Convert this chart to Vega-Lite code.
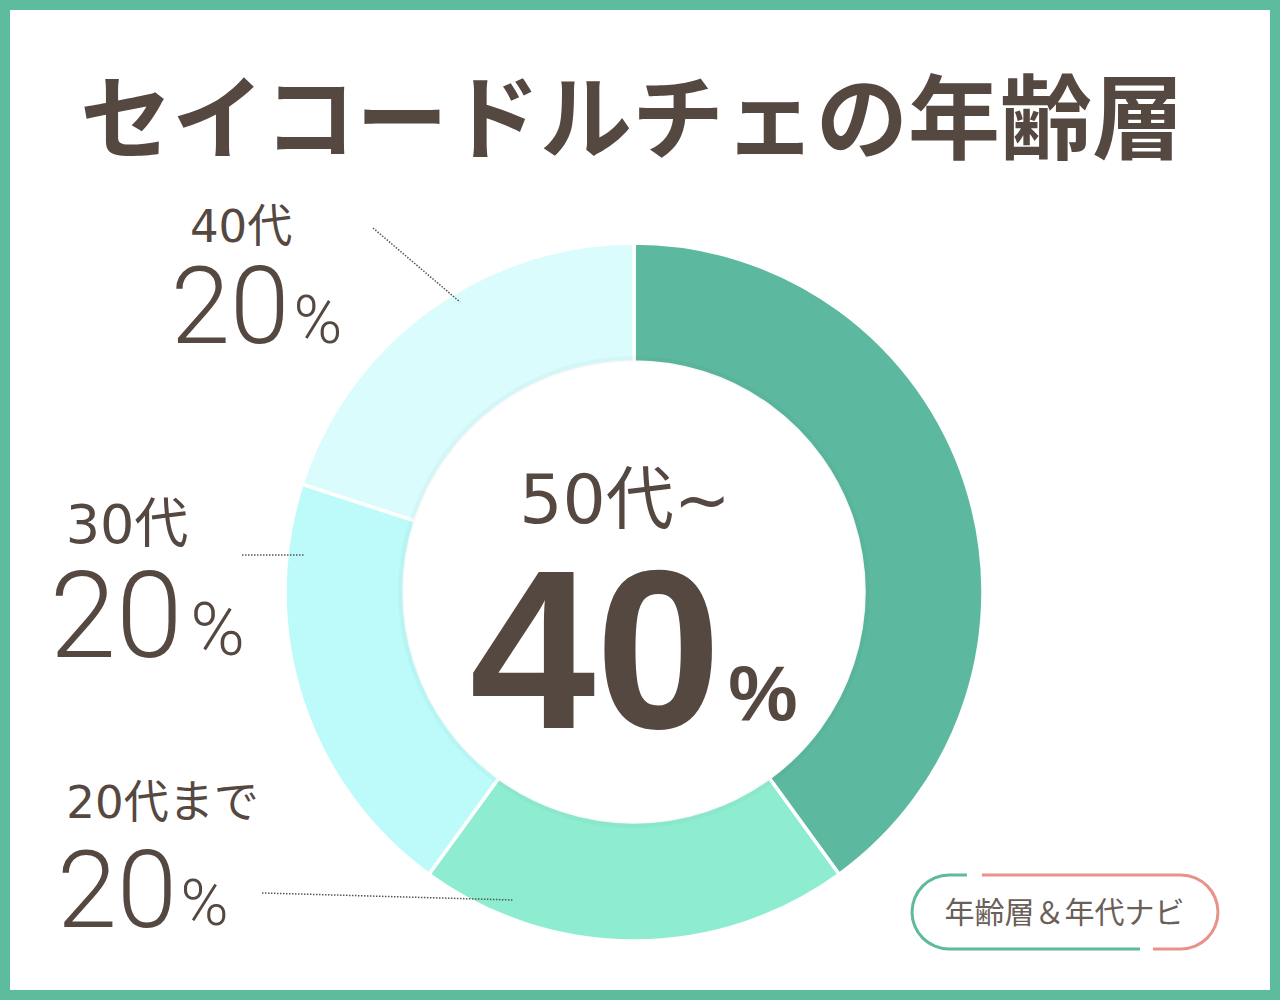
{
  "$schema": "https://vega.github.io/schema/vega-lite/v6.json",
  "width": 1260,
  "height": 980,
  "padding": 10,
  "autosize": {"type": "none"},
  "background": "#5dbb9e",
  "data": {
    "values": [
      {"cat": "50代~", "value": 40, "rank": 1},
      {"cat": "20代まで", "value": 20, "rank": 2},
      {"cat": "30代", "value": 20, "rank": 3},
      {"cat": "40代", "value": 20, "rank": 4}
    ]
  },
  "layer": [
    {
      "mark": {"type": "arc", "outerRadius": 349, "innerRadius": 230, "stroke": "white", "strokeWidth": 3.5},
      "encoding": {
        "theta": {"field": "value", "type": "quantitative", "stack": true},
        "order": {"field": "rank", "type": "quantitative"},
        "color": {
          "field": "cat",
          "type": "nominal",
          "scale": {"domain": ["50代~", "20代まで", "30代", "40代"], "range": ["#5cb99f", "#8eedd0", "#bcfbfa", "#dbfcfc"]},
          "legend": null
        },
        "x": {"datum": 0, "type": "quantitative", "scale": {"domain": [-179.31, 182.76], "nice": false, "zero": false}, "axis": null},
        "y": {"datum": 0, "type": "quantitative", "scale": {"domain": [-114.37, 167.24], "nice": false, "zero": false}, "axis": null}
      }
    },
    {
      "data": {"values": [{"title": "セイコードルチェの年齢層"}]},
      "layer": [
        {
          "mark": {"type": "arc", "theta": 0, "theta2": 6.28319, "innerRadius": 230, "outerRadius": 236, "fill": "#000000", "fillOpacity": 0.025},
          "encoding": {
            "x": {"datum": 0, "type": "quantitative", "axis": null},
            "y": {"datum": 0, "type": "quantitative", "axis": null}
          }
        },
        {
          "mark": {"type": "text", "font": "Noto Sans CJK JP", "fontSize": 92, "fontWeight": "bold", "color": "#554841", "align": "center", "baseline": "alphabetic"},
          "encoding": {
            "text": {"field": "title", "type": "nominal"},
            "x": {"datum": -0.57, "type": "quantitative", "axis": null},
            "y": {"datum": 126.44, "type": "quantitative", "axis": null}
          }
        }
      ]
    },
    {
      "transform": [{"filter": "datum.cat === '50代~'"}],
      "mark": {"type": "text", "font": "DejaVu Sans, Noto Sans CJK JP", "fontSize": 68, "color": "#554841", "align": "center", "baseline": "alphabetic"},
      "encoding": {
        "text": {"field": "cat", "type": "nominal"},
        "x": {"datum": -2.59, "type": "quantitative", "axis": null},
        "y": {"datum": 19.83, "type": "quantitative", "axis": null}
      }
    },
    {
      "transform": [{"filter": "datum.cat === '50代~'"}],
      "mark": {"type": "text", "font": "Liberation Sans", "fontWeight": "bold", "fontSize": 226, "color": "#554841", "align": "center", "baseline": "alphabetic"},
      "encoding": {
        "text": {"field": "value", "type": "nominal"},
        "x": {"datum": -11.06, "type": "quantitative", "axis": null},
        "y": {"datum": -39.08, "type": "quantitative", "axis": null}
      }
    },
    {
      "transform": [{"filter": "datum.cat === '50代~'"}],
      "mark": {"type": "text", "font": "Liberation Sans", "fontWeight": "bold", "fontSize": 78, "color": "#554841", "align": "center", "baseline": "alphabetic"},
      "encoding": {
        "text": {"value": "%"},
        "x": {"datum": 37.07, "type": "quantitative", "axis": null},
        "y": {"datum": -36.78, "type": "quantitative", "axis": null}
      }
    },
    {
      "transform": [{"filter": "datum.cat === '40代'"}],
      "mark": {"type": "text", "font": "DejaVu Sans, Noto Sans CJK JP", "fontSize": 45, "color": "#554841", "align": "center", "baseline": "alphabetic"},
      "encoding": {
        "text": {"field": "cat", "type": "nominal"},
        "x": {"datum": -112.93, "type": "quantitative", "axis": null},
        "y": {"datum": 100.57, "type": "quantitative", "axis": null}
      }
    },
    {
      "transform": [{"filter": "datum.cat === '40代'"}],
      "mark": {"type": "text", "font": "Roboto", "fontWeight": 300, "fontSize": 107, "color": "#554841", "align": "center", "baseline": "alphabetic"},
      "encoding": {
        "text": {"field": "value", "type": "nominal"},
        "x": {"datum": -116.09, "type": "quantitative", "axis": null},
        "y": {"datum": 71.55, "type": "quantitative", "axis": null}
      }
    },
    {
      "transform": [{"filter": "datum.cat === '40代'"}],
      "mark": {"type": "text", "font": "Roboto", "fontWeight": 300, "fontSize": 66, "color": "#554841", "align": "center", "baseline": "alphabetic"},
      "encoding": {
        "text": {"value": "%"},
        "x": {"datum": -90.8, "type": "quantitative", "axis": null},
        "y": {"datum": 71.55, "type": "quantitative", "axis": null}
      }
    },
    {
      "transform": [{"filter": "datum.cat === '30代'"}],
      "mark": {"type": "text", "font": "DejaVu Sans, Noto Sans CJK JP", "fontSize": 54, "color": "#554841", "align": "center", "baseline": "alphabetic"},
      "encoding": {
        "text": {"field": "cat", "type": "nominal"},
        "x": {"datum": -145.69, "type": "quantitative", "axis": null},
        "y": {"datum": 14.08, "type": "quantitative", "axis": null}
      }
    },
    {
      "transform": [{"filter": "datum.cat === '30代'"}],
      "mark": {"type": "text", "font": "Roboto", "fontWeight": 300, "fontSize": 120, "color": "#554841", "align": "center", "baseline": "alphabetic"},
      "encoding": {
        "text": {"field": "value", "type": "nominal"},
        "x": {"datum": -148.85, "type": "quantitative", "axis": null},
        "y": {"datum": -18.68, "type": "quantitative", "axis": null}
      }
    },
    {
      "transform": [{"filter": "datum.cat === '30代'"}],
      "mark": {"type": "text", "font": "Roboto", "fontWeight": 300, "fontSize": 74, "color": "#554841", "align": "center", "baseline": "alphabetic"},
      "encoding": {
        "text": {"value": "%"},
        "x": {"datum": -119.68, "type": "quantitative", "axis": null},
        "y": {"datum": -18.1, "type": "quantitative", "axis": null}
      }
    },
    {
      "transform": [{"filter": "datum.cat === '20代まで'"}],
      "mark": {"type": "text", "font": "DejaVu Sans, Noto Sans CJK JP", "fontSize": 45, "color": "#554841", "align": "center", "baseline": "alphabetic"},
      "encoding": {
        "text": {"field": "cat", "type": "nominal"},
        "x": {"datum": -135.49, "type": "quantitative", "axis": null},
        "y": {"datum": -64.94, "type": "quantitative", "axis": null}
      }
    },
    {
      "transform": [{"filter": "datum.cat === '20代まで'"}],
      "mark": {"type": "text", "font": "Roboto", "fontWeight": 300, "fontSize": 108, "color": "#554841", "align": "center", "baseline": "alphabetic"},
      "encoding": {
        "text": {"field": "value", "type": "nominal"},
        "x": {"datum": -148.56, "type": "quantitative", "axis": null},
        "y": {"datum": -96.26, "type": "quantitative", "axis": null}
      }
    },
    {
      "transform": [{"filter": "datum.cat === '20代まで'"}],
      "mark": {"type": "text", "font": "Roboto", "fontWeight": 300, "fontSize": 65, "color": "#554841", "align": "center", "baseline": "alphabetic"},
      "encoding": {
        "text": {"value": "%"},
        "x": {"datum": -123.42, "type": "quantitative", "axis": null},
        "y": {"datum": -95.69, "type": "quantitative", "axis": null}
      }
    },
    {
      "transform": [{"filter": "datum.cat === '40代'"}],
      "mark": {"type": "rule", "strokeDash": [1.5, 1.5], "strokeWidth": 1.5, "color": "#555555"},
      "encoding": {
        "x": {"datum": -75.0, "type": "quantitative", "axis": null},
        "y": {"datum": 104.6, "type": "quantitative", "axis": null},
        "x2": {"datum": -50.0},
        "y2": {"datum": 83.33}
      }
    },
    {
      "transform": [{"filter": "datum.cat === '30代'"}],
      "mark": {"type": "rule", "strokeDash": [1.5, 1.5], "strokeWidth": 1.5, "color": "#555555"},
      "encoding": {
        "x": {"datum": -112.64, "type": "quantitative", "axis": null},
        "y": {"datum": 10.63, "type": "quantitative", "axis": null},
        "x2": {"datum": -94.54},
        "y2": {"datum": 10.63}
      }
    },
    {
      "transform": [{"filter": "datum.cat === '20代まで'"}],
      "mark": {"type": "rule", "strokeDash": [1.5, 1.5], "strokeWidth": 1.5, "color": "#555555"},
      "encoding": {
        "x": {"datum": -106.9, "type": "quantitative", "axis": null},
        "y": {"datum": -86.49, "type": "quantitative", "axis": null},
        "x2": {"datum": -34.77},
        "y2": {"datum": -88.51}
      }
    },
    {
      "data": {"values": [{"label": "年齢層＆年代ナビ"}]},
      "layer": [
        {
          "mark": {"type": "arc", "theta": 3.14159, "theta2": 6.28319, "innerRadius": 35.5, "outerRadius": 38.5, "fill": "#5dba9e"},
          "encoding": {
            "x": {"datum": 90.52, "type": "quantitative", "axis": null},
            "y": {"datum": -91.95, "type": "quantitative", "axis": null}
          }
        },
        {
          "mark": {"type": "arc", "theta": 0, "theta2": 3.14159, "innerRadius": 35.5, "outerRadius": 38.5, "fill": "#e8928c"},
          "encoding": {
            "x": {"datum": 157.18, "type": "quantitative", "axis": null},
            "y": {"datum": -91.95, "type": "quantitative", "axis": null}
          }
        },
        {
          "mark": {"type": "rule", "strokeWidth": 3, "color": "#5dba9e"},
          "encoding": {
            "x": {"datum": 90.52, "type": "quantitative", "axis": null},
            "x2": {"datum": 95.69},
            "y": {"datum": -81.32, "type": "quantitative", "axis": null}
          }
        },
        {
          "mark": {"type": "rule", "strokeWidth": 3, "color": "#e8928c"},
          "encoding": {
            "x": {"datum": 100.0, "type": "quantitative", "axis": null},
            "x2": {"datum": 157.18},
            "y": {"datum": -81.32, "type": "quantitative", "axis": null}
          }
        },
        {
          "mark": {"type": "rule", "strokeWidth": 3, "color": "#5dba9e"},
          "encoding": {
            "x": {"datum": 90.52, "type": "quantitative", "axis": null},
            "x2": {"datum": 145.4},
            "y": {"datum": -102.59, "type": "quantitative", "axis": null}
          }
        },
        {
          "mark": {"type": "rule", "strokeWidth": 3, "color": "#e8928c"},
          "encoding": {
            "x": {"datum": 149.14, "type": "quantitative", "axis": null},
            "x2": {"datum": 157.18},
            "y": {"datum": -102.59, "type": "quantitative", "axis": null}
          }
        },
        {
          "mark": {"type": "text", "font": "Noto Sans CJK JP", "fontSize": 30, "color": "#6b5f5a", "align": "center", "baseline": "alphabetic"},
          "encoding": {
            "text": {"field": "label", "type": "nominal"},
            "x": {"datum": 123.71, "type": "quantitative", "axis": null},
            "y": {"datum": -95.11, "type": "quantitative", "axis": null}
          }
        }
      ]
    }
  ],
  "config": {
    "view": {"fill": "white", "stroke": null},
    "axis": {"disable": true}
  }
}
